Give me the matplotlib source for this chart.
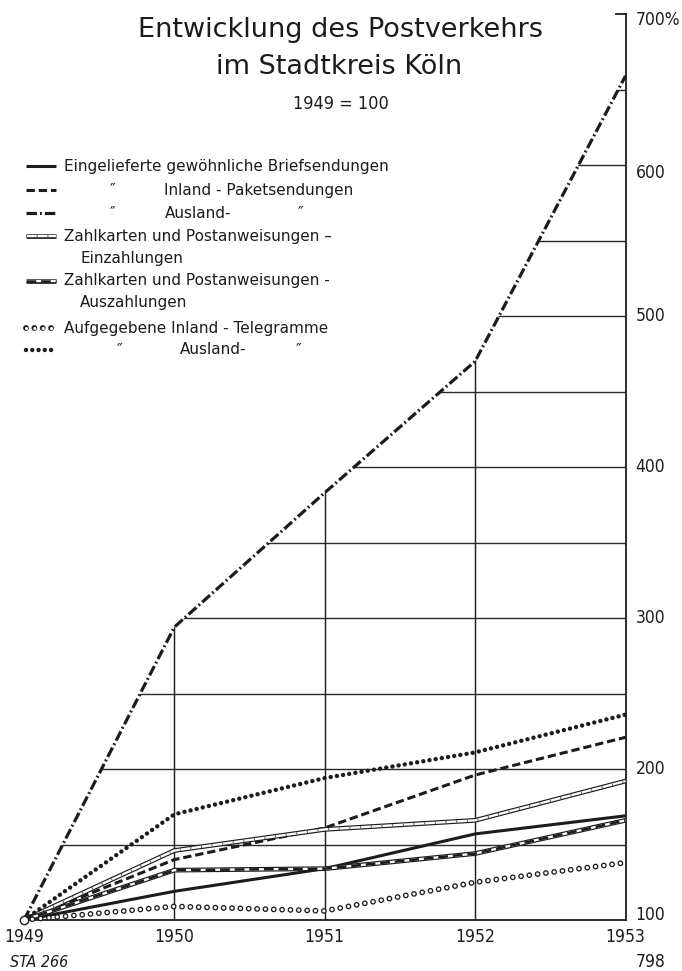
import matplotlib
matplotlib.use("Agg")
import matplotlib.pyplot as plt
from matplotlib.patches import Polygon
from matplotlib.lines import Line2D

plt.rcParams['lines.scale_dashes'] = False
plt.rcParams['font.family'] = ['DejaVu Sans']

# ---------------- data (1949 = 100) ----------------
years = [1949, 1950, 1951, 1952, 1953]
briefsendungen = [100, 119, 134, 157, 169]
inland_pakete = [100, 140, 161, 196, 221]
ausland_pakete = [100, 294, 383, 470, 659]
einzahlungen = [100, 146, 160, 166, 192]
auszahlungen = [100, 133, 134, 144, 166]
telegramme_inland = [100, 109, 106, 125, 138]
telegramme_ausland = [100, 170, 194, 211, 236]

y_ticks = [100, 200, 300, 400, 500, 600, 700]
y_tick_labels = ["100", "200", "300", "400", "500", "600", "700%"]
x_tick_labels = ["1949", "1950", "1951", "1952", "1953"]
grid_levels = [150, 200, 250, 300, 350, 400, 450, 500, 550, 600, 650]

INK = "#1c1c1c"
COND = dict(family="DejaVu Sans", stretch="condensed")

W, H = 682, 971
fig = plt.figure(figsize=(W / 100, H / 100), dpi=100)
fig.patch.set_facecolor("white")


def fx(x):
    return x / W


def fy(y):
    return 1 - y / H


# plot area in pixels
X0, X1 = 24, 625.5
Y0, Y1 = 920, 14
ax = fig.add_axes([fx(X0), fy(Y0), (X1 - X0) / W, (Y0 - Y1) / H])
ax.set_xlim(years[0], years[-1])
ax.set_ylim(y_ticks[0], y_ticks[-1])
ax.axis("off")

# clip region: below the steepest curve
clip_poly = Polygon(list(zip(years, ausland_pakete)) + [(years[-1], y_ticks[0])],
                    closed=True, transform=ax.transData, fill=False, visible=False)
ax.add_patch(clip_poly)

# grid
for lev in grid_levels:
    ln, = ax.plot([years[0], years[-1]], [lev, lev], color="#2a2a2a", lw=1.0,
                  solid_capstyle="butt", zorder=1)
    ln.set_clip_path(clip_poly)
for yr in years[1:-1]:
    ln, = ax.plot([yr, yr], [y_ticks[0], y_ticks[-1]], color="#222222", lw=1.05,
                  solid_capstyle="butt", zorder=1)
    ln.set_clip_path(clip_poly)

# axes lines
ax.plot([years[0], years[-1]], [y_ticks[0], y_ticks[0]], color=INK, lw=1.3,
        clip_on=False, zorder=2)
ax.plot([years[-1], years[-1]], [y_ticks[0], y_ticks[-1]], color=INK, lw=1.3,
        clip_on=False, zorder=2)
ax.add_line(Line2D([1 - 10 / (X1 - X0), 1], [1, 1], transform=ax.transAxes,
                   color=INK, lw=1.3, clip_on=False))


# ---------------- series styles ----------------
def draw_brief(a, x, y, **kw):
    a.plot(x, y, color=INK, lw=2.2, solid_capstyle="butt", **kw)


def draw_paket(a, x, y, **kw):
    a.plot(x, y, color=INK, lw=2.2, ls=(0, (6, 2.8)), dash_capstyle="butt", **kw)


def draw_ausland(a, x, y, **kw):
    a.plot(x, y, color=INK, lw=2.3, ls=(0, (7.5, 2.2, 1.3, 2.2)), dash_capstyle="butt", **kw)


def draw_einz(a, x, y, **kw):
    a.plot(x, y, color=INK, lw=3.4, solid_capstyle="butt", **kw)
    a.plot(x, y, color="white", lw=1.7, solid_capstyle="butt", **kw)
    a.plot(x, y, color="#555555", lw=1.7, ls=(0, (0.7, 7)), dash_capstyle="butt", **kw)


def draw_ausz(a, x, y, **kw):
    a.plot(x, y, color=INK, lw=3.4, solid_capstyle="butt", **kw)
    a.plot(x, y, color="white", lw=1.7, solid_capstyle="butt", **kw)
    a.plot(x, y, color=INK, lw=1.8, ls=(0, (7, 3.5)), dash_capstyle="butt", **kw)


def draw_tel_in(a, x, y, **kw):
    a.plot(x, y, color=INK, lw=4.2, ls=(0, (0.01, 6.0)), dash_capstyle="round", **kw)
    a.plot(x, y, color="white", lw=2.3, ls=(0, (0.01, 6.0)), dash_capstyle="round", **kw)


def draw_tel_aus(a, x, y, **kw):
    a.plot(x, y, color=INK, lw=3.2, ls=(0, (0.01, 4.5)), dash_capstyle="round", **kw)


series = [
    (briefsendungen, draw_brief),
    (inland_pakete, draw_paket),
    (ausland_pakete, draw_ausland),
    (einzahlungen, draw_einz),
    (auszahlungen, draw_ausz),
    (telegramme_inland, draw_tel_in),
    (telegramme_ausland, draw_tel_aus),
]
for vals, fn in series:
    fn(ax, years, vals, zorder=3, clip_on=False)

ax.plot([years[0]], [y_ticks[0]], marker="o", ms=6, mfc="white", mec=INK, mew=1.0,
        zorder=5, clip_on=False)

# ---------------- tick labels ----------------
for yr, lab in zip(years, x_tick_labels):
    ax.annotate(lab, (yr, y_ticks[0]), xytext=(0, -17 * 0.72), textcoords="offset points",
                ha="center", va="center", fontsize=12.5, color=INK,
                annotation_clip=False, **COND)
y_offsets = {100: 5, 600: -8, 700: -6}
for val, lab in zip(y_ticks, y_tick_labels):
    ax.annotate(lab, (years[-1], val), xytext=(10 * 0.72, y_offsets.get(val, 0) * 0.72),
                textcoords="offset points", ha="left", va="center", fontsize=12.5,
                color=INK, annotation_clip=False, **COND)

# ---------------- titles ----------------
fig.text(fx(341), fy(30), "Entwicklung des Postverkehrs", ha="center", va="center",
         fontsize=19.5, color=INK)
fig.text(fx(339), fy(67), "im Stadtkreis Köln", ha="center", va="center",
         fontsize=19.5, color=INK)
fig.text(fx(341), fy(104), "1949 = 100", ha="center", va="center",
         fontsize=13, color=INK, **COND)

# ---------------- legend (hand drawn) ----------------
leg_rows = [
    (166, draw_brief, [(64, "Eingelieferte gewöhnliche Briefsendungen")]),
    (190, draw_paket, [(110, "\u2033"), (164, "Inland - Paketsendungen")]),
    (213, draw_ausland, [(110, "\u2033"), (165, "Ausland-"), (298, "\u2033")]),
    (236, draw_einz, [(64, "Zahlkarten und Postanweisungen \u2013")]),
    (258, None, [(80, "Einzahlungen")]),
    (281, draw_ausz, [(64, "Zahlkarten und Postanweisungen -")]),
    (303, None, [(80, "Auszahlungen")]),
    (328, draw_tel_in, [(64, "Aufgegebene Inland - Telegramme")]),
    (350, draw_tel_aus, [(117, "\u2033"), (180, "Ausland-"), (296, "\u2033")]),
]
lax = fig.add_axes([0, 0, 1, 1], facecolor="none")
lax.set_xlim(0, W)
lax.set_ylim(H, 0)
lax.axis("off")
for ypos, fn, texts in leg_rows:
    if fn is not None:
        fn(lax, [26, 56], [ypos, ypos], zorder=3)
    for xpos, t in texts:
        lax.text(xpos, ypos, t, ha="left", va="center", fontsize=11, color=INK)

# footer
fig.text(fx(10), fy(962), "STA 266", ha="left", va="center", fontsize=11.5,
         style="italic", color=INK, **COND)
fig.text(fx(636), fy(962), "798", ha="left", va="center", fontsize=12.5,
         color=INK, **COND)

fig.savefig("out.png", dpi=100, facecolor="white")
